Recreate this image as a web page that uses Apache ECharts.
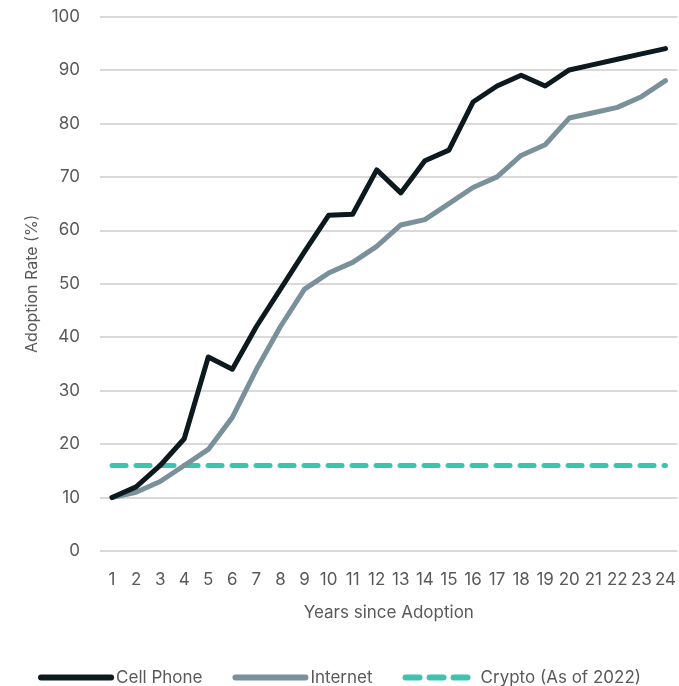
<!DOCTYPE html>
<html><head><meta charset="utf-8">
<script src="https://cdn.jsdelivr.net/npm/echarts@6/dist/echarts.min.js"></script>
<style>html,body{margin:0;padding:0;background:#fff}#c{width:679px;height:686px}</style>
</head><body><div id="c"></div>
<script>
const years = ['1','2','3','4','5','6','7','8','9','10','11','12','13','14','15','16','17','18','19','20','21','22','23','24'];
const cellPhone = [10,12,16,21,36.3,34,42,49,56,62.8,63,71.3,67,73,75,84,87,89,87,90,91,92,93,94];
const internet = [10,11,13,16,19,25,34,42,49,52,54,57,61,62,65,68,70,74,76,81,82,83,85,88];
const crypto = [16,16,16,16,16,16,16,16,16,16,16,16,16,16,16,16,16,16,16,16,16,16,16,16];
const yTicks = {min:0, max:100, interval:10};

const font = 'Inter, "Noto Sans", sans-serif';
const txt = '#595959';
const chart = echarts.init(document.getElementById('c'));
chart.setOption({
  animation:false,
  grid:{left:100, right:0, top:16.5, bottom:135, containLabel:false},
  legend:{
    top:664, left:'center', itemWidth:70, itemHeight:14, itemGap:30,
    textStyle:{color:txt, fontSize:17, fontFamily:font},
    itemStyle:{opacity:0},
    lineStyle:{width:6, inactiveWidth:6},
    data:['Cell Phone','Internet','Crypto (As of 2022)']
  },
  xAxis:{
    type:'category', data:years, boundaryGap:true,
    name:'Years since Adoption', nameLocation:'middle', nameGap:53,
    nameTextStyle:{color:txt, fontSize:17, fontFamily:font},
    axisLine:{show:false}, axisTick:{show:false},
    axisLabel:{color:txt, fontSize:17, fontFamily:font, margin:20, interval:0}
  },
  yAxis:{
    type:'value', min:yTicks.min, max:yTicks.max, interval:yTicks.interval,
    name:'Adoption Rate (%)', nameLocation:'middle', nameGap:60,
    nameTextStyle:{color:txt, fontSize:16, fontFamily:font},
    axisLine:{show:false}, axisTick:{show:false},
    axisLabel:{color:txt, fontSize:17, fontFamily:font, margin:20},
    splitLine:{lineStyle:{color:'#d9d9d9', width:2}}
  },
  series:[
    {name:'Cell Phone', type:'line', data:cellPhone, symbol:'none', z:3,
     lineStyle:{color:'#0c191e', width:5, cap:'round', join:'round'}, itemStyle:{color:'#0c191e'}},
    {name:'Internet', type:'line', data:internet, symbol:'none', z:2,
     lineStyle:{color:'#7a909a', width:5, cap:'round', join:'round'}, itemStyle:{color:'#7a909a'}},
    {name:'Crypto (As of 2022)', type:'line', data:crypto, symbol:'none', z:1,
     lineStyle:{color:'#3ec4ae', width:5, type:[14,10], cap:'round'}, itemStyle:{color:'#3ec4ae'}}
  ]
});
</script></body></html>
